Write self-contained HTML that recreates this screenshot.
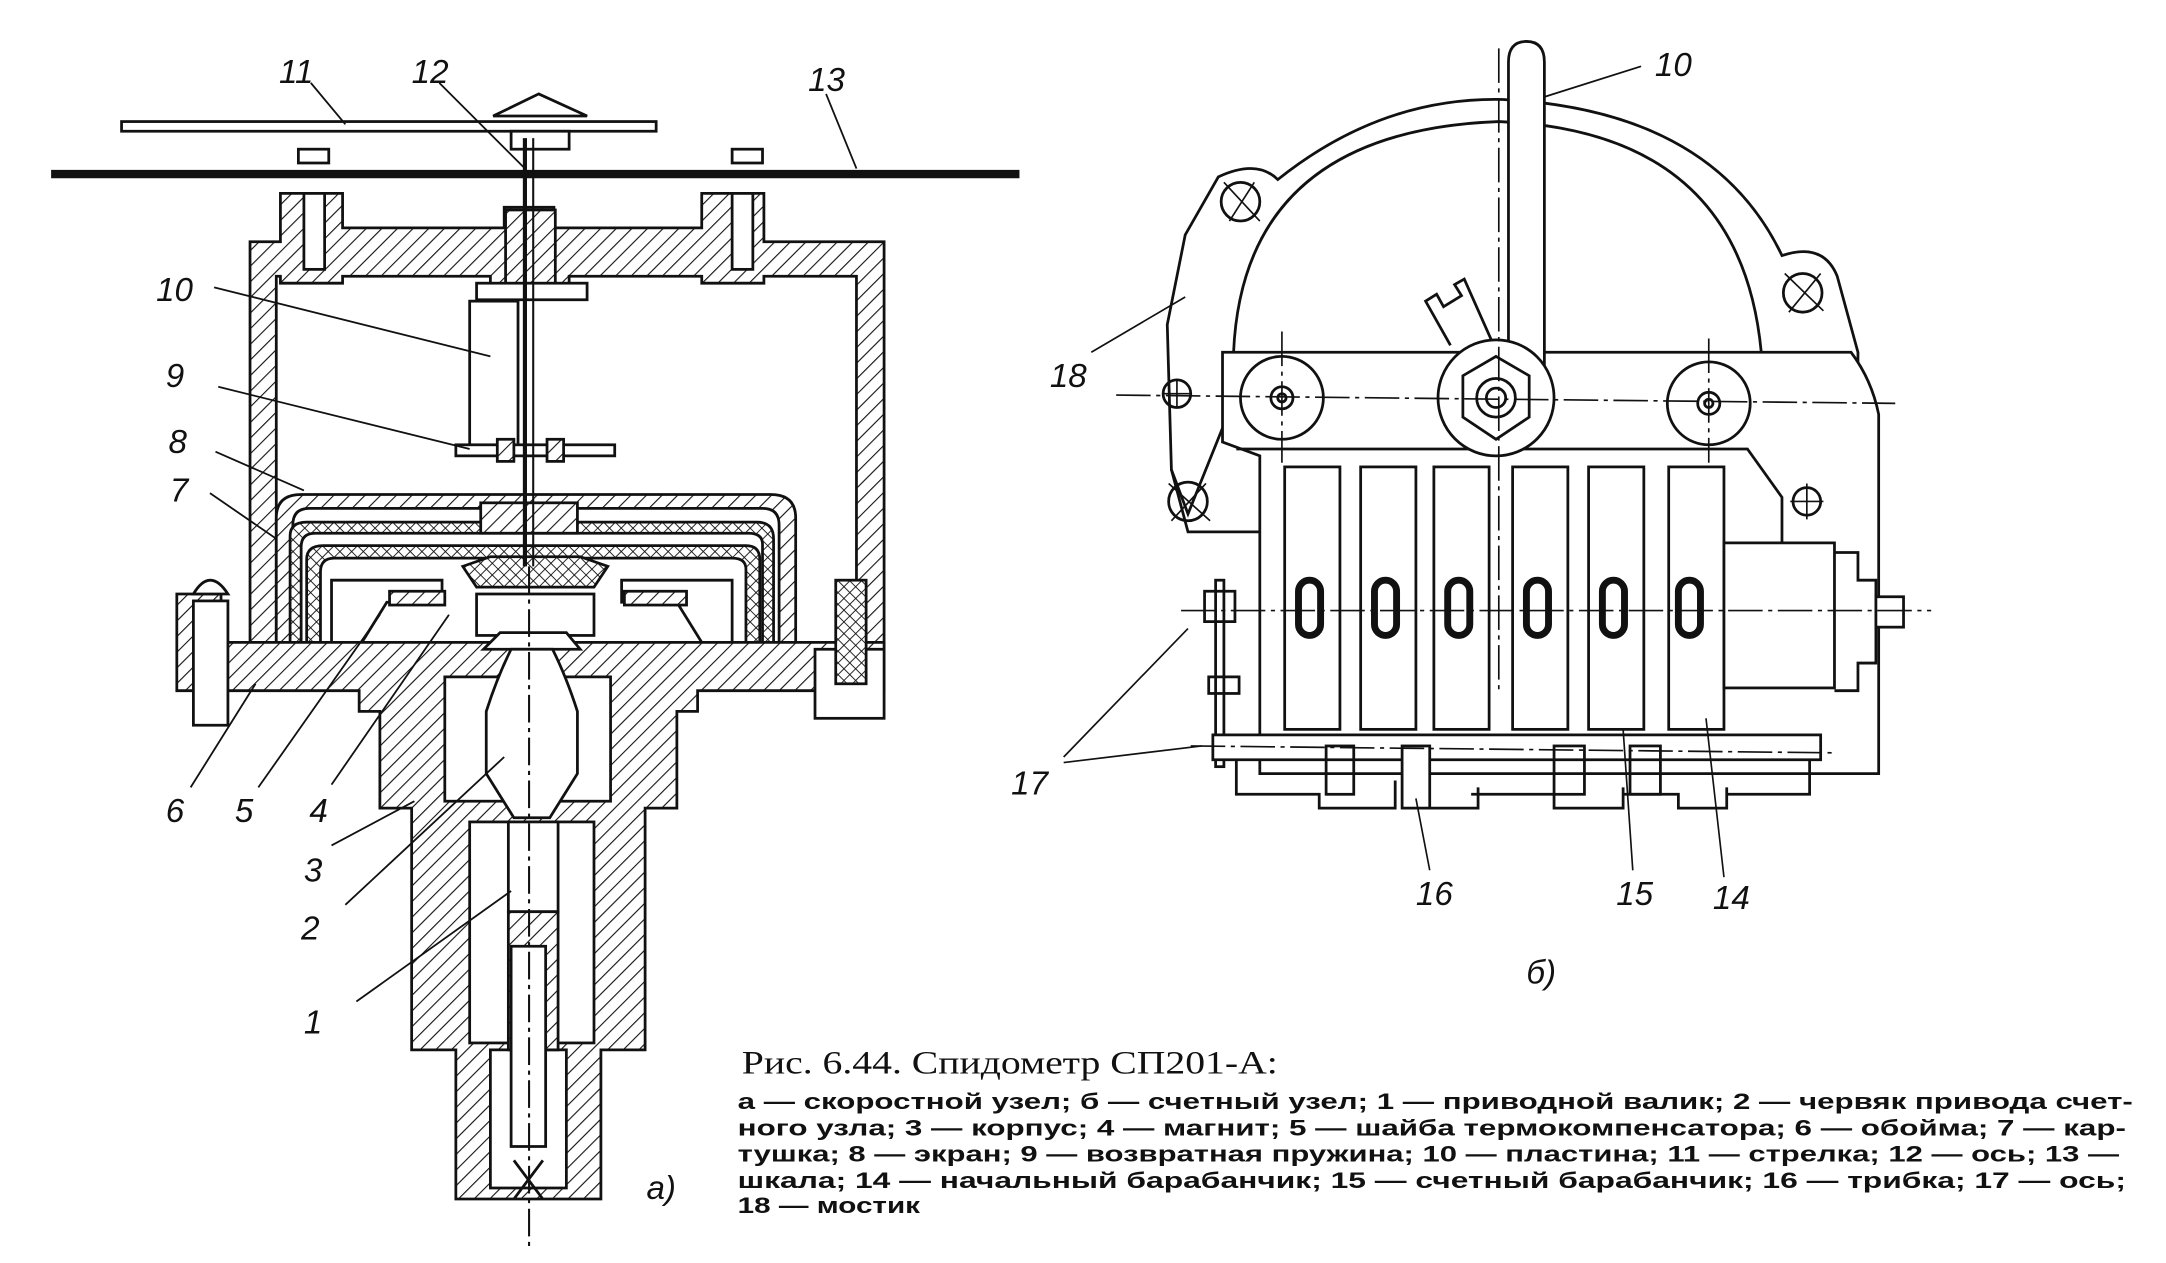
<!DOCTYPE html>
<html><head><meta charset="utf-8">
<style>
html,body{margin:0;padding:0;background:#fff;}
svg{display:block;}
.n{font-family:"Liberation Sans",sans-serif;font-style:italic;font-size:24px;fill:#111;}
</style></head>
<body>
<svg width="2166" height="1263" viewBox="0 0 1568 914.3" preserveAspectRatio="none" xmlns="http://www.w3.org/2000/svg">
<defs>
<pattern id="h" width="8" height="8" patternUnits="userSpaceOnUse" patternTransform="rotate(45)">
<rect width="8" height="8" fill="#fff"/><line x1="0" y1="0" x2="0" y2="8" stroke="#111" stroke-width="1.6"/></pattern>
<pattern id="x" width="6" height="6" patternUnits="userSpaceOnUse" patternTransform="rotate(45)">
<rect width="6" height="6" fill="#fff"/><line x1="0" y1="0" x2="0" y2="6" stroke="#111" stroke-width="1.3"/><line x1="0" y1="0" x2="6" y2="0" stroke="#111" stroke-width="1.3"/></pattern>
</defs>
<rect width="1568" height="914.3" fill="#fff"/>
<g stroke="#111" stroke-width="2" fill="none">
<rect x="88" y="88" width="387" height="7" fill="#fff"/>
<path d="M357 84 L390 68 L425 84 Z" fill="#fff"/>
<rect x="370" y="95" width="42" height="13" fill="#fff"/>
<line x1="37" y1="126" x2="738" y2="126" stroke-width="6"/>
<path d="M181 175 H203 V140 H248 V165 H365 V150 H401 V165 H508 V140 H553 V175 H640 V470 H620 V200 H553 V205 H508 V200 H412 V215 H355 V200 H248 V205 H203 V200 H200 V470 H181 Z" fill="url(#h)"/>
<rect x="220" y="140" width="15" height="55" fill="#fff"/><rect x="530" y="140" width="15" height="55" fill="#fff"/>
<rect x="216" y="108" width="22" height="10" fill="#fff"/><rect x="530" y="108" width="22" height="10" fill="#fff"/>
<rect x="366" y="152" width="36" height="58" fill="url(#h)"/>
<rect x="345" y="205" width="80" height="12" fill="#fff"/>
<rect x="340" y="218" width="35" height="105" fill="#fff"/>
<rect x="330" y="322" width="115" height="8" fill="#fff"/>
<rect x="360" y="318" width="12" height="16" fill="url(#h)"/><rect x="396" y="318" width="12" height="16" fill="url(#h)"/>
<path d="M200 470 V375 Q200 358 218 358 H558 Q576 358 576 375 V470 H564 V380 Q564 368 552 368 H224 Q212 368 212 380 V470 Z" fill="url(#h)"/>
<path d="M210 475 V388 Q210 378 222 378 H548 Q560 378 560 390 V475 H552 V394 Q552 386 542 386 H228 Q218 386 218 396 V475 Z" fill="url(#x)"/>
<path d="M222 478 V405 Q222 395 234 395 H540 Q550 395 550 405 V478 H540 V412 Q540 404 530 404 H242 Q232 404 232 414 V478 Z" fill="url(#x)"/>
<rect x="348" y="364" width="70" height="22" fill="url(#h)"/>
<path d="M335 410 L355 403 H420 L440 410 L430 425 H345 Z" fill="url(#x)"/>
<path d="M240 420 H320 V436 H280 L262 465 H240 Z" fill="#fff"/>
<rect x="282" y="428" width="40" height="10" fill="url(#h)"/>
<path d="M530 420 H450 V436 H490 L508 465 H530 Z" fill="#fff"/>
<rect x="452" y="428" width="45" height="10" fill="url(#h)"/>
<rect x="345" y="430" width="85" height="30" fill="#fff"/>
<path d="M128 430 H160 V465 H640 V500 H505 V515 H490 V585 H467 V760 H435 V868 H330 V760 H298 V585 H275 V515 H260 V500 H128 Z" fill="url(#h)"/>
<rect x="140" y="435" width="25" height="90" fill="#fff"/>
<path d="M140 430 Q152 410 165 430 Z" fill="#fff"/>
<rect x="590" y="470" width="50" height="50" fill="#fff"/>
<rect x="605" y="420" width="22" height="75" fill="url(#x)"/>
<rect x="322" y="490" width="120" height="90" fill="#fff"/>
<rect x="340" y="595" width="90" height="160" fill="#fff"/>
<rect x="355" y="760" width="55" height="100" fill="#fff"/>
<path d="M362 458 H410 L420 470 H350 Z" fill="#fff"/>
<path d="M370 470 Q360 490 352 515 V560 L372 592 H398 L418 560 V515 Q410 490 400 470 Z" fill="#fff"/>
<rect x="368" y="595" width="36" height="65" fill="#fff"/>
<rect x="368" y="660" width="36" height="100" fill="url(#h)"/>
<path d="M370 685 H395 V830 H370 Z" fill="#fff"/>
<path d="M372 840 L393 868 M393 840 L372 868"/>
</g>
<g stroke="#111" stroke-width="1.5">
<line x1="380" y1="100" x2="380" y2="410" stroke-width="3"/>
<line x1="386" y1="100" x2="386" y2="410" stroke-width="1.5"/>
<line x1="383" y1="410" x2="383" y2="905" stroke-dasharray="20 4 3 4"/>
</g>
<g stroke="#111" stroke-width="1.3" fill="none">
<path d="M225 60 L250 90 M318 60 L380 122 M598 68 L620 122"/>
<path d="M155 208 L355 258 M158 280 L340 325 M156 327 L220 355 M152 357 L200 390"/>
<path d="M138 570 L185 495 M187 570 L275 445 M240 568 L325 445 M240 612 L300 580 M250 655 L365 548 M258 725 L370 645"/>
<path d="M1188 48 L1112 72"/>
</g>
<g class="n">
<text x="202" y="60">11</text><text x="298" y="60">12</text><text x="585" y="66">13</text>
<text x="113" y="218">10</text><text x="120" y="280">9</text><text x="122" y="328">8</text><text x="123" y="363">7</text>
<text x="120" y="595">6</text><text x="170" y="595">5</text><text x="224" y="595">4</text>
<text x="220" y="638">3</text><text x="218" y="680">2</text><text x="220" y="748">1</text>
<text x="468" y="868">а)</text>
</g>
<g stroke="#111" stroke-width="2" fill="none">
<path d="M860 372 L848 340 L845 235 L858 170 L882 128 Q910 115 925 130 Q1000 70 1088 72 Q1240 80 1290 185 Q1320 175 1330 200 L1345 255 L1345 280 L895 285 Z" fill="#fff"/>
<path d="M893 255 Q900 95 1085 88 Q1260 95 1275 255"/>
<path d="M848 340 L860 385 L912 385"/>
<path d="M1260 360 L1290 385 L1345 385"/>
<path d="M885 255 H1340 Q1355 275 1360 300 V560 H912 V330 L885 320 Z" fill="#fff"/>
<path d="M895 325 H1265 L1290 360 V395"/>
<path d="M1092 280 V45 Q1092 30 1105 30 Q1118 30 1118 45 V270 Z" fill="#fff"/>
<circle cx="928" cy="288" r="30" fill="#fff"/><circle cx="928" cy="288" r="8"/><circle cx="928" cy="288" r="3"/>
<circle cx="1237" cy="292" r="30" fill="#fff"/><circle cx="1237" cy="292" r="8"/><circle cx="1237" cy="292" r="3"/>
<circle cx="1083" cy="288" r="42" fill="#fff"/>
<polygon points="1083,258 1107,272 1107,302 1083,318 1059,302 1059,272"/>
<circle cx="1083" cy="288" r="14"/><circle cx="1083" cy="288" r="7"/>
<path d="M1050 250 L1032 218 L1040 213 L1045 222 L1058 214 L1053 206 L1060 202 L1080 247"/>
<circle cx="898" cy="146" r="14"/><circle cx="1305" cy="212" r="14"/>
<circle cx="852" cy="285" r="10"/><circle cx="860" cy="363" r="14"/><circle cx="1308" cy="363" r="10"/>
<g fill="#fff">
<rect x="930" y="338" width="40" height="190"/><rect x="985" y="338" width="40" height="190"/><rect x="1038" y="338" width="40" height="190"/>
<rect x="1095" y="338" width="40" height="190"/><rect x="1150" y="338" width="40" height="190"/><rect x="1208" y="338" width="40" height="190"/>
</g>
<g stroke-width="5">
<rect x="940" y="420" width="16" height="40" rx="8"/><rect x="995" y="420" width="16" height="40" rx="8"/><rect x="1048" y="420" width="16" height="40" rx="8"/>
<rect x="1105" y="420" width="16" height="40" rx="8"/><rect x="1160" y="420" width="16" height="40" rx="8"/><rect x="1215" y="420" width="16" height="40" rx="8"/>
</g>
<rect x="1248" y="393" width="80" height="105" fill="#fff"/>
<path d="M1328 400 H1345 V420 H1358 V480 H1345 V500 H1328"/>
<rect x="1358" y="432" width="20" height="22" fill="#fff"/>
<rect x="872" y="428" width="22" height="22" fill="#fff"/>
<rect x="880" y="420" width="6" height="135"/>
<rect x="875" y="490" width="22" height="12"/>
<rect x="878" y="532" width="440" height="18" fill="#fff"/>
<path d="M895 550 V575 H955 V585 H1010 V565 M1030 585 H1070 V570 M1065 575 H1125 V585 H1175 V570 M1175 575 H1215 V585 H1250 V570 M1250 575 H1310 V550"/>
<rect x="1015" y="540" width="20" height="45" fill="#fff"/>
<rect x="960" y="540" width="20" height="35"/><rect x="1125" y="540" width="22" height="35"/><rect x="1180" y="540" width="22" height="35"/>
</g>
<g stroke="#111" stroke-width="1.2" fill="none" stroke-dasharray="25 4 3 4">
<line x1="808" y1="286" x2="1372" y2="292"/>
<line x1="855" y1="442" x2="1398" y2="442"/>
<line x1="862" y1="540" x2="1330" y2="545"/>
<line x1="1085" y1="35" x2="1085" y2="500"/>
<line x1="928" y1="240" x2="928" y2="335"/><line x1="1237" y1="245" x2="1237" y2="335"/>
</g>
<g stroke="#111" stroke-width="1.2" fill="none">
<path d="M886 132 L912 160 M890 160 L908 132 M1292 198 L1320 225 M1295 226 L1318 198 M842 285 H862 M852 275 V295 M846 350 L876 377 M848 377 L873 350 M1296 363 H1320 M1308 350 V376"/>
<path d="M790 255 L858 215 M770 548 L860 455 M770 552 L870 540 M1025 578 L1035 630 M1175 528 L1182 630 M1235 520 L1248 635"/>
</g>
<g class="n">
<text x="1198" y="55">10</text><text x="760" y="280">18</text><text x="732" y="575">17</text>
<text x="1025" y="655">16</text><text x="1170" y="655">15</text><text x="1240" y="658">14</text>
<text x="1105" y="712">б)</text>
</g>
<text x="537" y="777" font-family="Liberation Serif, serif" font-size="24" fill="#111" textLength="388" lengthAdjust="spacingAndGlyphs">Рис. 6.44. Спидометр СП201-А:</text>
<g font-family="Liberation Sans, sans-serif" font-size="16" font-weight="bold" fill="#111">
<text x="534" y="803" textLength="1010" lengthAdjust="spacingAndGlyphs">а — скоростной узел; б — счетный узел; 1 — приводной валик; 2 — червяк привода счет-</text>
<text x="534" y="822" textLength="1005" lengthAdjust="spacingAndGlyphs">ного узла; 3 — корпус; 4 — магнит; 5 — шайба термокомпенсатора; 6 — обойма; 7 — кар-</text>
<text x="534" y="841" textLength="1000" lengthAdjust="spacingAndGlyphs">тушка; 8 — экран; 9 — возвратная пружина; 10 — пластина; 11 — стрелка; 12 — ось; 13 —</text>
<text x="534" y="860" textLength="1005" lengthAdjust="spacingAndGlyphs">шкала; 14 — начальный барабанчик; 15 — счетный барабанчик; 16 — трибка; 17 — ось;</text>
<text x="534" y="878" textLength="132" lengthAdjust="spacingAndGlyphs">18 — мостик</text>
</g>
</svg>
</body></html>
